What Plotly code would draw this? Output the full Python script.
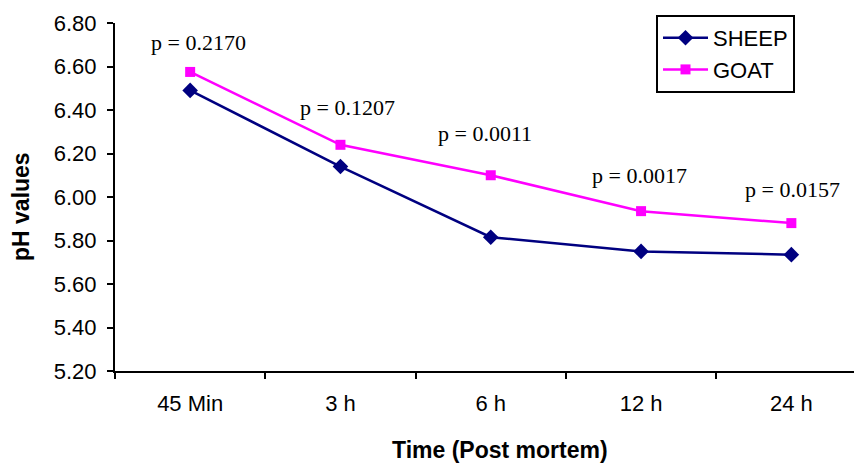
import plotly.graph_objects as go

categories = ["45 Min", "3 h", "6 h", "12 h", "24 h"]
sheep = [6.49, 6.14, 5.815, 5.75, 5.735]
goat = [6.575, 6.24, 6.10, 5.935, 5.88]
p_labels = ["p = 0.2170", "p = 0.1207", "p = 0.0011", "p = 0.0017", "p = 0.0157"]
p_label_y = [6.71, 6.41, 6.29, 6.10, 6.035]
p_label_shift = [8, 7, -6, -2, 1]
y_ticks = [5.2, 5.4, 5.6, 5.8, 6.0, 6.2, 6.4, 6.6, 6.8]

sans = "Arial, Liberation Sans, sans-serif"
serif = "Times New Roman, Liberation Serif, serif"

# page has an 8px body margin: div starts at (8, 8)
OFF = 8
L, T, B, R = 115, 23, 371, 862   # plot area in page pixels
W, H = 862 - OFF, 463 - OFF
pw, ph = R - L, B - T

fig = go.Figure()
fig.add_trace(go.Scatter(
    x=categories, y=sheep, name="SHEEP", mode="lines+markers",
    line=dict(color="#000080", width=2.5),
    marker=dict(symbol="diamond", size=12, color="#000080"),
))
fig.add_trace(go.Scatter(
    x=categories, y=goat, name="GOAT", mode="lines+markers",
    line=dict(color="#FF00FF", width=2.5),
    marker=dict(symbol="square", size=10, color="#FF00FF"),
))

for c, t, yv, s in zip(categories, p_labels, p_label_y, p_label_shift):
    fig.add_annotation(x=c, y=yv, text=t, showarrow=False, xshift=s,
                       font=dict(family=serif, size=22, color="black"))

fig.add_annotation(xref="paper", yref="paper", x=(500 - L) / pw, y=(B - 450) / ph,
                   text="<b>Time (Post mortem)</b>", showarrow=False,
                   xanchor="center", yanchor="middle",
                   font=dict(family=sans, size=23, color="black"))
fig.add_annotation(xref="paper", yref="paper", x=(21 - L) / pw, y=(B - 206) / ph,
                   text="<b>pH values</b>", showarrow=False, textangle=-90,
                   xanchor="center", yanchor="middle",
                   font=dict(family=sans, size=23, color="black"))

fig.update_layout(
    width=W, height=H,
    margin=dict(l=L - OFF, r=0, t=T - OFF, b=H - (B - OFF)),
    paper_bgcolor="white", plot_bgcolor="white",
    showlegend=True,
    legend=dict(x=(656 - L) / pw, y=(B - 15) / ph, xanchor="left", yanchor="top",
                bordercolor="black", borderwidth=2, bgcolor="white",
                itemwidth=45,
                font=dict(family=sans, size=22, color="black")),
    font=dict(family=sans, color="black"),
)
fig.update_xaxes(
    type="category", range=[-0.5, 4.47],
    showline=True, linecolor="black", linewidth=2,
    ticks="outside", tickson="boundaries", ticklen=6, tickwidth=2, tickcolor="black",
    showgrid=False, zeroline=False,
    tickfont=dict(family=sans, size=22, color="black"),
    ticklabelstandoff=12,
)
fig.update_yaxes(
    range=[5.2, 6.8], tickvals=y_ticks, ticktext=[f"{v:.2f}" for v in y_ticks],
    showline=True, linecolor="black", linewidth=2,
    ticks="outside", ticklen=6, tickwidth=2, tickcolor="black",
    showgrid=False, zeroline=False,
    tickfont=dict(family=sans, size=22, color="black"),
    ticklabelstandoff=6,
)

fig.write_html("out.html")
